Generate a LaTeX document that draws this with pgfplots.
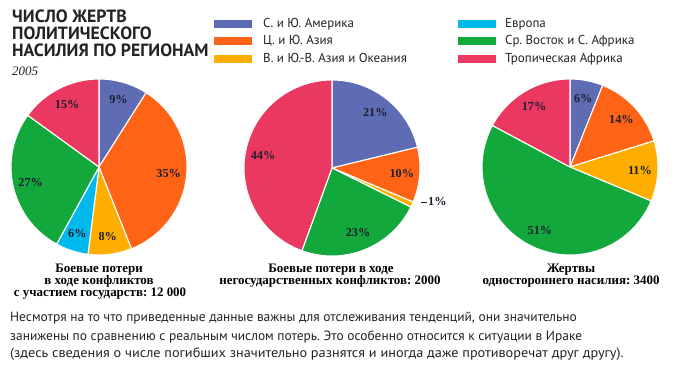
\documentclass[border=0pt]{standalone}
\usepackage{pgfplots}
\usepackage{pgfplotstable}
\pgfplotsset{compat=1.18}
\usepackage{fontspec}
\setmainfont{PT Sans}
\newfontfamily\serifb{Liberation Serif}
\definecolor{cAm}{RGB}{94,108,180}
\definecolor{cAs}{RGB}{255,100,22}
\definecolor{cEA}{RGB}{255,174,0}
\definecolor{cEu}{RGB}{0,186,238}
\definecolor{cME}{RGB}{18,168,60}
\definecolor{cAf}{RGB}{234,56,96}
\definecolor{labcol}{RGB}{30,30,50}
\definecolor{txt}{RGB}{35,35,35}
\frenchspacing

\pgfplotstableread{
col pct dist
cAm 9 70
cAs 35 70
cEA 8 70
cEu 6 70
cME 27 70
cAf 15 70
}\pieA
\pgfplotstableread{
col pct dist
cAm 21 70
cAs 10 70
cEA 1 0
cME 23 70
cAf 44 70
}\pieB
\pgfplotstableread{
col pct dist
cAm 6 70
cAs 14 70
cEA 11 70
cME 51 70
cAf 17 70
}\pieC

\tikzset{pielab/.style={font=\serifb\bfseries\fontsize{12.3}{12.5}\selectfont, text=labcol, inner sep=0pt}}

\newcommand\drawpie[3]{%
  \gdef\piesum{0}%
  \pgfplotstableforeachcolumnelement{pct}\of#1\as\pv{\pgfmathparse{\piesum+\pv}\xdef\piesum{\pgfmathresult}}%
  \gdef\piecum{0}%
  \pgfplotstableforeachcolumnelement{pct}\of#1\as\pv{%
    \pgfplotstablegetelem{\pgfplotstablerow}{col}\of#1\xdef\piecol{\pgfplotsretval}%
    \pgfmathparse{90-\piecum/\piesum*360}\xdef\pa{\pgfmathresult}%
    \pgfmathparse{\piecum+\pv}\xdef\piecum{\pgfmathresult}%
    \pgfmathparse{90-\piecum/\piesum*360}\xdef\pb{\pgfmathresult}%
    \edef\tmp{\noexpand\filldraw[fill=\piecol, draw=white, line width=1.1pt, line join=round] (axis cs:#2,#3) -- ++(\pa:88bp) arc[start angle=\pa, end angle=\pb, radius=88bp] -- cycle;}\tmp
  }%
  \gdef\piecum{0}%
  \pgfplotstableforeachcolumnelement{pct}\of#1\as\pv{%
    \pgfplotstablegetelem{\pgfplotstablerow}{dist}\of#1\xdef\piedist{\pgfplotsretval}%
    \pgfmathparse{90-\piecum/\piesum*360}\xdef\pa{\pgfmathresult}%
    \pgfmathparse{\piecum+\pv}\xdef\piecum{\pgfmathresult}%
    \pgfmathparse{90-\piecum/\piesum*360}\xdef\pb{\pgfmathresult}%
    \pgfmathparse{(\pa+\pb)/2}\xdef\pmid{\pgfmathresult}%
    \ifdim\piedist pt>0pt
      \edef\tmp{\noexpand\node[pielab] at ([shift={(\pmid:\piedist bp)}]axis cs:#2,#3) {\pv\noexpand\%};}\tmp
    \fi
  }%
}

\begin{document}
\begin{tikzpicture}
\begin{axis}[width=677bp, height=366bp, scale only axis, xmin=0, xmax=677, ymin=0, ymax=366, hide axis, clip=false]
\path (axis cs:0,0) rectangle (axis cs:677,366);
% title
\begin{scope}[every node/.style={anchor=base west, inner sep=0pt, font=\bfseries\fontsize{17.8}{18}\selectfont, text=txt}]
\node at (axis cs:12,343) {ЧИСЛО ЖЕРТВ};
\node at (axis cs:12,326) {ПОЛИТИЧЕСКОГО};
\node at (axis cs:12,309) {НАСИЛИЯ ПО РЕГИОНАМ};
\end{scope}
\node[anchor=base west, inner sep=0pt, font=\serifb\itshape\fontsize{13}{13}\selectfont, text=txt] at (axis cs:12,290) {2005};
% legend
\fill[cAm] (axis cs:214,338) rectangle (axis cs:252,346);
\fill[cAs] (axis cs:214,321) rectangle (axis cs:252,329);
\fill[cEA] (axis cs:214,303) rectangle (axis cs:252,311);
\fill[cEu] (axis cs:458,338) rectangle (axis cs:496,346);
\fill[cME] (axis cs:458,321) rectangle (axis cs:496,329);
\fill[cAf] (axis cs:458,303) rectangle (axis cs:496,311);
\begin{scope}[every node/.style={anchor=base west, inner sep=0pt, font=\fontsize{13}{13}\selectfont, text=txt}]
\node at (axis cs:263,338) {С. и Ю. Америка};
\node at (axis cs:263,321) {Ц. и Ю. Азия};
\node at (axis cs:263,303) {В. и Ю.-В. Азия и Океания};
\node at (axis cs:505,338) {Европа};
\node at (axis cs:505,321) {Ср. Восток и С. Африка};
\node at (axis cs:505,303) {Тропическая Африка};
\end{scope}
% pies
\drawpie{\pieA}{99}{199}
\drawpie{\pieB}{332}{198}
\drawpie{\pieC}{570}{199}
\draw[labcol, line width=0.8pt] (axis cs:421,164) -- (axis cs:427,164);
\node[pielab, anchor=west] at (axis cs:428,164) {1\%};
% captions
\begin{scope}[every node/.style={anchor=base, inner sep=0pt, font=\serifb\bfseries\fontsize{13}{13}\selectfont, text=black}]
\node at (axis cs:99,93) {Боевые потери};
\node at (axis cs:99,81) {в ходе конфликтов};
\node at (axis cs:100,69) {с участием государств: 12 000};
\node at (axis cs:331,93) {Боевые потери в ходе};
\node at (axis cs:330,81) {негосударственных конфликтов: 2000};
\node at (axis cs:571,93) {Жертвы};
\node at (axis cs:571,81) {одностороннего насилия: 3400};
\end{scope}
% footnote
\begin{scope}[every node/.style={anchor=base west, inner sep=0pt, font=\fontsize{13.5}{13.5}\selectfont, text=txt}]
\node at (axis cs:10,44) {Несмотря на то что приведенные данные важны для отслеживания тенденций, они значительно};
\node at (axis cs:10,26) {занижены по сравнению с реальным числом потерь. Это особенно относится к ситуации в Ираке};
\node at (axis cs:10,9) {\scalebox{1.06}[1]{(здесь сведения о числе погибших значительно разнятся и иногда даже противоречат друг другу).}};
\end{scope}
\end{axis}
\end{tikzpicture}
\end{document}
